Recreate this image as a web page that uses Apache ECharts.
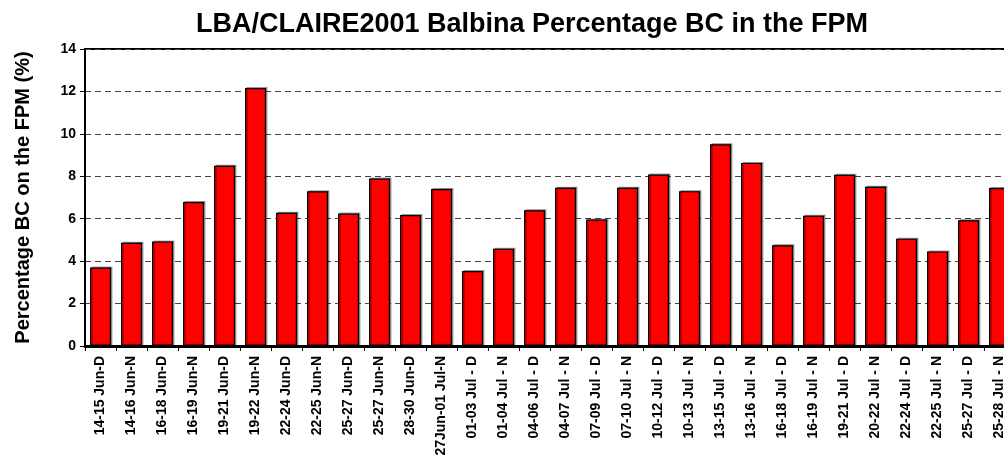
<!DOCTYPE html>
<html>
<head>
<meta charset="utf-8">
<script src="https://cdn.jsdelivr.net/npm/echarts@6/dist/echarts.min.js"></script>
<style>html,body{margin:0;padding:0;background:#fff;overflow:hidden;}#c{width:1004px;height:455px;}</style>
</head>
<body>
<div id="c"></div>
<script>
const categories = [
  "14-15 Jun-D","14-16 Jun-N","16-18 Jun-D","16-19 Jun-N","19-21 Jun-D","19-22 Jun-N",
  "22-24 Jun-D","22-25 Jun-N","25-27 Jun-D","25-27 Jun-N","28-30 Jun-D","27Jun-01 Jul-N",
  "01-03 Jul - D","01-04 Jul - N","04-06 Jul - D","04-07 Jul - N","07-09 Jul - D","07-10 Jul - N",
  "10-12 Jul - D","10-13 Jul - N","13-15 Jul - D","13-16 Jul - N","16-18 Jul - D","16-19 Jul - N",
  "19-21 Jul - D","20-22 Jul - N","22-24 Jul - D","22-25 Jul - N","25-27 Jul - D","25-28 Jul - N"
];
const percentBC = [
  3.70, 4.87, 4.93, 6.79, 8.50, 12.16,
  6.28, 7.29, 6.24, 7.89, 6.17, 7.40,
  3.53, 4.59, 6.40, 7.46, 5.96, 7.46,
  8.08, 7.30, 9.51, 8.63, 4.75, 6.14,
  8.07, 7.51, 5.06, 4.46, 5.93, 7.45
];
const yTicks = [0, 2, 4, 6, 8, 10, 12, 14];

const chart = echarts.init(document.getElementById('c'));
const font = '"Liberation Sans", Arial, sans-serif';
chart.setOption({
  animation: false,
  backgroundColor: '#ffffff',
  title: {
    text: 'LBA/CLAIRE2001 Balbina Percentage BC in the FPM',
    left: 527, top: 6, textAlign: 'center',
    textStyle: { fontFamily: font, fontWeight: 'bold', fontSize: 27, color: '#000' }
  },
  grid: {
    left: 85, top: 49, width: 930, height: 297,
    outerBoundsMode: 'none', containLabel: false,
    show: true, borderColor: '#000', borderWidth: 2, backgroundColor: 'transparent'
  },
  xAxis: {
    type: 'category',
    data: categories,
    boundaryGap: true,
    axisLine: { lineStyle: { color: '#000', width: 3 } },
    axisTick: { show: true, alignWithLabel: false, length: 5, lineStyle: { color: '#000', width: 1 } },
    axisLabel: {
      interval: 0, rotate: 90, margin: 10,
      fontFamily: font, fontWeight: 'bold', fontSize: 14, color: '#000'
    }
  },
  yAxis: {
    type: 'value',
    min: yTicks[0], max: yTicks[yTicks.length - 1], interval: 2,
    name: 'Percentage BC on the FPM (%)',
    nameLocation: 'middle', nameGap: 52, nameRotate: 90,
    nameTextStyle: { fontFamily: font, fontWeight: 'bold', fontSize: 20, color: '#000' },
    axisLine: { show: true, lineStyle: { color: '#000', width: 2 } },
    axisTick: { show: true, length: 5, lineStyle: { color: '#000', width: 1 } },
    axisLabel: { fontFamily: font, fontWeight: 'bold', fontSize: 14, color: '#000', margin: 9 },
    splitLine: { show: true, lineStyle: { color: '#444', type: [6, 4], width: 1 } }
  },
  series: [{
    type: 'bar',
    data: percentBC,
    barWidth: 21,
    itemStyle: {
      color: '#ff0000', borderColor: '#000', borderWidth: 1.2,
      shadowColor: 'rgba(0,0,0,0.35)', shadowOffsetX: 1.5, shadowOffsetY: -1, shadowBlur: 0
    }
  }]
});
</script>
</body>
</html>
